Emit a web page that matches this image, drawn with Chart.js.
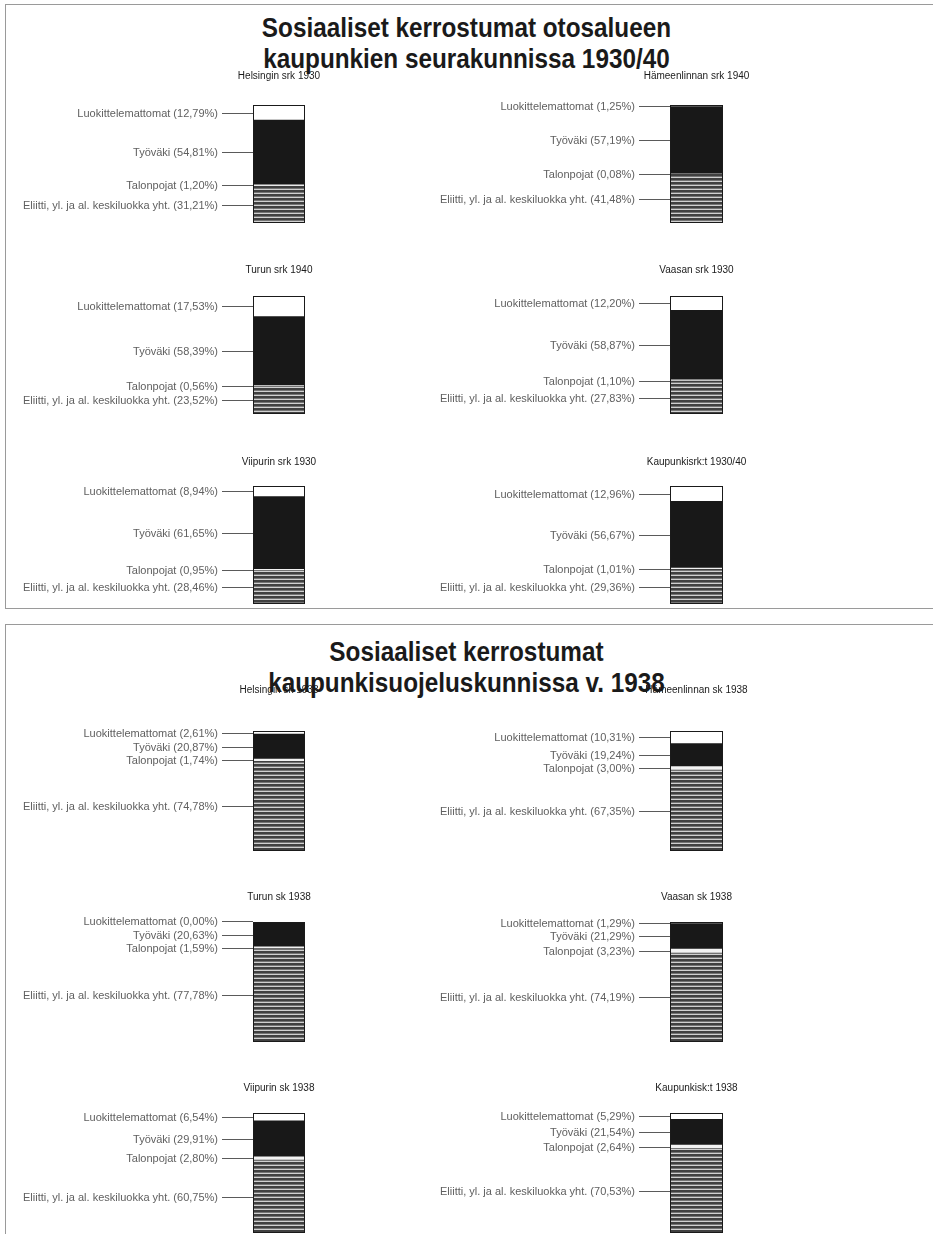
<!DOCTYPE html>
<html>
<head>
<meta charset="utf-8">
<script src="https://cdn.jsdelivr.net/npm/chart.js@4.4.1/dist/chart.umd.min.js"></script>
<style>
  html, body { margin: 0; padding: 0; background: #fff; }
  body { width: 933px; height: 1234px; overflow: hidden; position: relative; font-family: "Liberation Sans", Arial, sans-serif; }
  .frame { position: absolute; border: 1px solid #9a9a9a; box-sizing: border-box; }
  .title { position: absolute; left: 0; width: 933px; text-align: center; font-weight: bold; font-size: 27px; color: #1a1a1a; line-height: 30px; white-space: nowrap; transform: scaleX(0.9); transform-origin: 466px 0; }
  canvas { position: absolute; }
</style>
</head>
<body>
<div class="frame" id="frameTop"></div>
<div class="frame" id="frameBottom"></div>
<div class="title" id="t1a">Sosiaaliset kerrostumat otosalueen</div>
<div class="title" id="t1b">kaupunkien seurakunnissa 1930/40</div>
<div class="title" id="t2a">Sosiaaliset kerrostumat</div>
<div class="title" id="t2b">kaupunkisuojeluskunnissa v. 1938</div>

<script>
// ---------------- DATA ----------------
const classNames = ["Luokittelemattomat", "Työväki", "Talonpojat", "Eliitti, yl. ja al. keskiluokka yht."];

// Panel 1: seurakunnat 1930/40
const parishes = ["Helsingin srk 1930", "Hämeenlinnan srk 1940", "Turun srk 1940", "Vaasan srk 1930", "Viipurin srk 1930", "Kaupunkisrk:t 1930/40"];
const parishUnclassified = [12.79, 1.25, 17.53, 12.20, 8.94, 12.96];
const parishWorkers      = [54.81, 57.19, 58.39, 58.87, 61.65, 56.67];
const parishPeasants     = [1.20, 0.08, 0.56, 1.10, 0.95, 1.01];
const parishElite        = [31.21, 41.48, 23.52, 27.83, 28.46, 29.36];

// Panel 2: suojeluskunnat 1938
const guards = ["Helsingin sk 1938", "Hämeenlinnan sk 1938", "Turun sk 1938", "Vaasan sk 1938", "Viipurin sk 1938", "Kaupunkisk:t 1938"];
const guardUnclassified = [2.61, 10.31, 0.00, 1.29, 6.54, 5.29];
const guardWorkers      = [20.87, 19.24, 20.63, 21.29, 29.91, 21.54];
const guardPeasants     = [1.74, 3.00, 1.59, 3.23, 2.80, 2.64];
const guardElite        = [74.78, 67.35, 77.78, 74.19, 60.75, 70.53];

// ---------------- LAYOUT ----------------
const place = (id, css) => Object.assign(document.getElementById(id).style, css);
place('frameTop', { left: '5px', top: '4px', width: '940px', height: '605px' });
place('frameBottom', { left: '5px', top: '624px', width: '940px', height: '640px' });
place('t1a', { top: '13px' });
place('t1b', { top: '44px' });
place('t2a', { top: '637px' });
place('t2b', { top: '668px' });

const COLS = [
  { canvasLeft: 8, barLeft: 253, barRight: 305 },
  { canvasLeft: 420, barLeft: 670, barRight: 723 }
];
const RIGHT_PAD = 50;
const PANELS = [
  { names: parishes, series: [parishUnclassified, parishWorkers, parishPeasants, parishElite],
    titleY: [76, 270, 462], barTop: [105, 296, 486], barH: 118 },
  { names: guards, series: [guardUnclassified, guardWorkers, guardPeasants, guardElite],
    titleY: [690, 897, 1088], barTop: [731, 922, 1113], barH: 120 }
];

const fmt = v => '(' + v.toFixed(2).replace('.', ',') + '%)';

function stripePattern(ctx) {
  const c = document.createElement('canvas');
  c.width = 4; c.height = 4;
  const g = c.getContext('2d');
  g.fillStyle = '#404040'; g.fillRect(0, 0, 4, 2);
  g.fillStyle = '#747474'; g.fillRect(0, 2, 4, 1);
  g.fillStyle = '#d0d0d0'; g.fillRect(0, 3, 4, 1);
  return ctx.createPattern(c, 'repeat');
}

function spread(ys, gap) {
  let clusters = ys.map((y, i) => ({ idx: [i], mean: y }));
  const pos = c => c.idx.map((_, j) => c.mean - (c.idx.length - 1) * gap / 2 + j * gap);
  let changed = true;
  while (changed) {
    changed = false;
    for (let k = 1; k < clusters.length; k++) {
      const a = clusters[k - 1], b = clusters[k];
      const pa = pos(a), pb = pos(b);
      if (pb[0] - pa[pa.length - 1] < gap) {
        const idx = a.idx.concat(b.idx);
        const mean = idx.reduce((s, i) => s + ys[i], 0) / idx.length;
        clusters.splice(k - 1, 2, { idx, mean });
        changed = true;
        break;
      }
    }
  }
  const out = [];
  clusters.forEach(c => pos(c).forEach((p, j) => out[c.idx[j]] = p));
  return out;
}

const labelPlugin = {
  id: 'strataLabels',
  afterDatasetsDraw(chart, args, opts) {
    const ctx = chart.ctx;
    const y = chart.scales.y;
    const el = chart.getDatasetMeta(0).data[0];
    const left = el.x - el.width / 2, right = el.x + el.width / 2;
    const ds = chart.data.datasets;
    let cum = 0; const centers = {};
    ds.forEach((d, i) => { const v = d.data[0]; centers[i] = y.getPixelForValue(cum + v / 2); cum += v; });
    const top = y.getPixelForValue(Math.min(cum, 100)), bottom = y.getPixelForValue(0);
    ctx.save();
    ctx.strokeStyle = '#1a1a1a'; ctx.lineWidth = 1;
    ctx.strokeRect(Math.round(left) + 0.5, Math.round(top) + 0.5, Math.round(right - left) - 1, Math.round(bottom - top) - 1);
    const order = [3, 2, 1, 0];
    const ys = spread(order.map(i => centers[i]), 13.5);
    ctx.font = '11px "Liberation Sans", Arial, sans-serif';
    ctx.fillStyle = '#606060'; ctx.textAlign = 'right'; ctx.textBaseline = 'middle';
    ctx.strokeStyle = '#5a5a5a';
    order.forEach((i, k) => {
      const ly = Math.round(ys[k]) + 0.5;
      ctx.fillText(ds[i].label + ' ' + fmt(ds[i].data[0]), left - 35, ly);
      ctx.beginPath(); ctx.moveTo(left - 31, ly); ctx.lineTo(left, ly); ctx.stroke();
    });
    ctx.font = '10px "Liberation Sans", Arial, sans-serif';
    ctx.fillStyle = '#1a1a1a'; ctx.textAlign = 'center';
    ctx.fillText(opts.title, (left + right) / 2, opts.titleY);
    ctx.restore();
  }
};

PANELS.forEach(panel => {
  panel.names.forEach((name, n) => {
    const col = COLS[n % 2], row = Math.floor(n / 2);
    const cTop = panel.titleY[row] - 10;
    const barTop = panel.barTop[row];
    const w = col.barRight + RIGHT_PAD - col.canvasLeft;
    const h = barTop + panel.barH + 4 - cTop;
    const cv = document.createElement('canvas');
    cv.width = w; cv.height = h;
    cv.style.left = col.canvasLeft + 'px'; cv.style.top = cTop + 'px';
    cv.style.width = w + 'px'; cv.style.height = h + 'px';
    document.body.appendChild(cv);
    const ctx = cv.getContext('2d');
    const s = panel.series;
    new Chart(ctx, {
      type: 'bar',
      data: {
        labels: [name],
        datasets: [
          { label: classNames[3], data: [s[3][n]], backgroundColor: stripePattern(ctx) },
          { label: classNames[2], data: [s[2][n]], backgroundColor: '#f2f2f2' },
          { label: classNames[1], data: [s[1][n]], backgroundColor: '#181818' },
          { label: classNames[0], data: [s[0][n]], backgroundColor: '#ffffff' }
        ]
      },
      options: {
        responsive: false, animation: false, devicePixelRatio: 1,
        datasets: { bar: { barPercentage: 1, categoryPercentage: 1, borderWidth: 0 } },
        layout: { padding: { left: col.barLeft - col.canvasLeft, right: RIGHT_PAD, top: barTop - cTop, bottom: 4 } },
        scales: {
          x: { stacked: true, display: false },
          y: { stacked: true, display: false, min: 0, max: 100 }
        },
        plugins: {
          legend: { display: false }, tooltip: { enabled: false },
          strataLabels: { title: name, titleY: 10 }
        }
      },
      plugins: [labelPlugin]
    });
  });
});
</script>
</body>
</html>
